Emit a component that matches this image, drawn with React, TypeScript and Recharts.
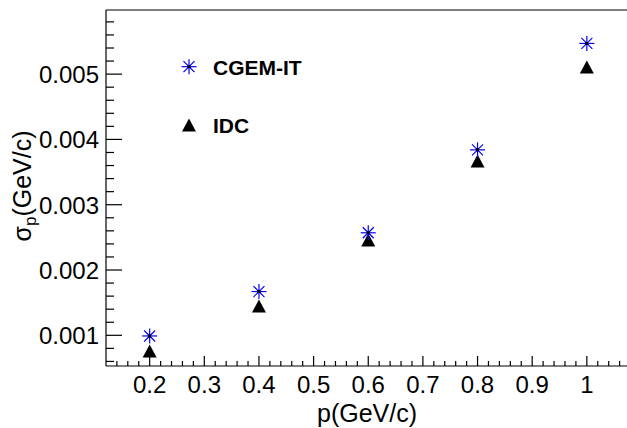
import { ScatterChart, Scatter, XAxis, YAxis, ReferenceLine } from "recharts";

const pValues = [0.2, 0.4, 0.6, 0.8, 1.0];
const cgemSigma = [0.00099, 0.00167, 0.00257, 0.00384, 0.00547];
const idcSigma = [0.00076, 0.00145, 0.00246, 0.00367, 0.00511];

const xTicks = [
  0.14, 0.16, 0.18, 0.2, 0.22, 0.24, 0.26, 0.28, 0.3, 0.32, 0.34, 0.36, 0.38, 0.4,
  0.42, 0.44, 0.46, 0.48, 0.5, 0.52, 0.54, 0.56, 0.58, 0.6, 0.62, 0.64, 0.66, 0.68,
  0.7, 0.72, 0.74, 0.76, 0.78, 0.8, 0.82, 0.84, 0.86, 0.88, 0.9, 0.92, 0.94, 0.96,
  0.98, 1, 1.02, 1.04, 1.06,
];
const xLabels = [0.2, 0.3, 0.4, 0.5, 0.6, 0.7, 0.8, 0.9, 1];

const yTicks = [
  0.0006, 0.0008, 0.001, 0.0012, 0.0014, 0.0016, 0.0018, 0.002, 0.0022, 0.0024,
  0.0026, 0.0028, 0.003, 0.0032, 0.0034, 0.0036, 0.0038, 0.004, 0.0042, 0.0044,
  0.0046, 0.0048, 0.005, 0.0052, 0.0054, 0.0056, 0.0058,
];
const yLabels = [0.001, 0.002, 0.003, 0.004, 0.005];

const X_DOMAIN = [0.1201, 1.0735];
const Y_DOMAIN = [0.00053, 0.005982];

const cgemData = pValues.map((p, i) => ({ p, s: cgemSigma[i] }));
const idcData = pValues.map((p, i) => ({ p, s: idcSigma[i] }));

const FONT = "'Liberation Sans', Arial, Helvetica, sans-serif";

const isLabel = (list: number[], v: number) => list.some((l) => Math.abs(l - v) < 1e-9);

const Star = ({ cx, cy }: any) => {
  const r = 7.5;
  const d = 5.5;
  return (
    <g stroke="#0000ff" strokeWidth={1.2}>
      <line x1={cx - r} y1={cy} x2={cx + r} y2={cy} />
      <line x1={cx} y1={cy - r} x2={cx} y2={cy + r} />
      <line x1={cx - d} y1={cy - d} x2={cx + d} y2={cy + d} />
      <line x1={cx - d} y1={cy + d} x2={cx + d} y2={cy - d} />
      <rect x={cx - 1.5} y={cy - 1.5} width={3} height={3} fill="#000" stroke="none" />
    </g>
  );
};

const Triangle = ({ cx, cy }: any) => {
  const w = 7;
  const h = 6.5;
  return <polygon points={`${cx},${cy - h} ${cx - w},${cy + h} ${cx + w},${cy + h}`} fill="#000" />;
};

const XTick = ({ x, y, payload }: any) => {
  const major = isLabel(xLabels, payload.value);
  return (
    <g>
      <line x1={x} y1={y} x2={x} y2={y - (major ? 10 : 5)} stroke="#000" strokeWidth={1.2} />
      {major && (
        <text x={x} y={y + 27} textAnchor="middle" fontSize={24} fontFamily={FONT} fill="#000">
          {String(Number(payload.value.toFixed(1)))}
        </text>
      )}
    </g>
  );
};

const YTick = ({ x, y, payload }: any) => {
  const major = isLabel(yLabels, payload.value);
  return (
    <g>
      <line x1={x} y1={y} x2={x + (major ? 16 : 8)} y2={y} stroke="#000" strokeWidth={1.2} />
      {major && (
        <text x={x - 7} y={y + 9} textAnchor="end" fontSize={24} fontFamily={FONT} fill="#000">
          {payload.value.toFixed(3)}
        </text>
      )}
    </g>
  );
};

export default function App() {
  return (
    <div style={{ position: "absolute", left: 0, top: 0, width: 627, height: 428, background: "#fff" }}>
      <ScatterChart width={627} height={428} margin={{ top: 10, right: 0, left: 0, bottom: 0 }}>
        <XAxis
          type="number"
          dataKey="p"
          domain={X_DOMAIN}
          allowDataOverflow
          ticks={xTicks}
          interval={0}
          height={62}
          tickSize={0}
          tickMargin={0}
          tickLine={false}
          axisLine={{ stroke: "#000", strokeWidth: 1.2 }}
          tick={<XTick />}
        />
        <YAxis
          type="number"
          dataKey="s"
          domain={Y_DOMAIN}
          allowDataOverflow
          ticks={yTicks}
          interval={0}
          width={106}
          tickSize={0}
          tickMargin={0}
          tickLine={false}
          axisLine={{ stroke: "#000", strokeWidth: 1.2 }}
          tick={<YTick />}
        />
        <ReferenceLine y={Y_DOMAIN[1]} stroke="#000" strokeWidth={1.2} ifOverflow="extendDomain" />
        <Scatter data={idcData} shape={<Triangle />} isAnimationActive={false} />
        <Scatter data={cgemData} shape={<Star />} isAnimationActive={false} />
      </ScatterChart>
      <svg width={627} height={428} style={{ position: "absolute", left: 0, top: 0, pointerEvents: "none" }}>
        <Star cx={189} cy={66.7} />
        <text x={213} y={75} fontSize={21} fontWeight="bold" fontFamily={FONT} fill="#000">
          CGEM-IT
        </text>
        <Triangle cx={189} cy={125} />
        <text x={213} y={133} fontSize={21} fontWeight="bold" fontFamily={FONT} fill="#000">
          IDC
        </text>
        <text x={367} y={422} textAnchor="middle" fontSize={25} fontFamily={FONT} fill="#000">
          p(GeV/c)
        </text>
        <text
          transform="translate(31,186) rotate(-90)"
          textAnchor="middle"
          fontSize={25}
          fontFamily={FONT}
          fill="#000"
        >
          σ
          <tspan fontSize={17} dy={5}>p</tspan>
          <tspan dy={-5}>(GeV/c)</tspan>
        </text>
      </svg>
    </div>
  );
}
